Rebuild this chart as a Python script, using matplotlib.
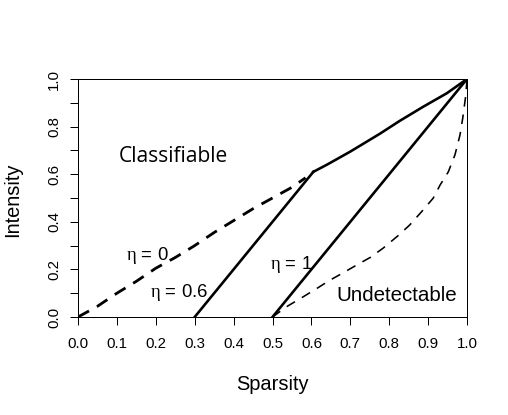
import matplotlib
matplotlib.use("Agg")
import matplotlib.pyplot as plt
import numpy as np

plt.rcParams['font.family'] = ['Liberation Sans', 'DejaVu Sans']
plt.rcParams['mathtext.fontset'] = 'custom'
plt.rcParams['mathtext.rm'] = 'Liberation Sans'
plt.rcParams['mathtext.it'] = 'Liberation Serif'

# Data
eta0_x = [0.0, 0.05, 0.1, 0.15, 0.2, 0.25, 0.3, 0.35, 0.4, 0.45, 0.5, 0.55, 0.585]
eta0_y = [0.0, 0.045, 0.1, 0.15, 0.205, 0.25, 0.3, 0.355, 0.405, 0.455, 0.5, 0.545, 0.585]

eta06_x = [0.3, 0.605]
eta06_y = [0.0, 0.61]

upper_x = [0.605, 0.64, 0.70, 0.776, 0.828, 0.888, 0.948, 1.0]
upper_y = [0.61, 0.64, 0.695, 0.77, 0.825, 0.884, 0.94, 1.0]

eta1_x = [0.5, 1.0]
eta1_y = [0.0, 1.0]

undet_x = [0.5, 0.536, 0.579, 0.614, 0.648, 0.682, 0.716, 0.751, 0.785, 0.823,
           0.853, 0.883, 0.913, 0.931, 0.952, 0.969, 0.982, 0.989, 0.997, 1.0]
undet_y = [0.0, 0.043, 0.085, 0.12, 0.155, 0.186, 0.218, 0.25, 0.29, 0.342,
           0.387, 0.442, 0.499, 0.555, 0.61, 0.681, 0.765, 0.835, 0.933, 1.0]

x_ticks = [0.0, 0.1, 0.2, 0.3, 0.4, 0.5, 0.6, 0.7, 0.8, 0.9, 1.0]
x_ticklabels = ["0.0", "0.1", "0.2", "0.3", "0.4", "0.5", "0.6", "0.7", "0.8", "0.9", "1.0"]
y_ticks = [0.0, 0.1, 0.2, 0.3, 0.4, 0.5, 0.6, 0.7, 0.8, 0.9, 1.0]
y_ticklabels = ["0.0", "", "0.2", "", "0.4", "", "0.6", "", "0.8", "", "1.0"]

W, H = 508, 415
fig = plt.figure(figsize=(W / 72, H / 72), dpi=72)
L, R, T, B = 78, 467, 79, 317
ax = fig.add_axes([L / W, 1 - B / H, (R - L) / W, (B - T) / H])

ax.plot(eta0_x, eta0_y, color='black', lw=2.8, dashes=(4.5, 3.2), solid_capstyle='butt')
ax.plot(eta06_x, eta06_y, color='black', lw=2.6)
ax.plot(upper_x, upper_y, color='black', lw=2.6)
ax.plot(eta1_x, eta1_y, color='black', lw=2.6)
ax.plot(undet_x, undet_y, color='black', lw=1.6, dashes=(6, 5))

ax.set_xlim(0, 1)
ax.set_ylim(0, 1)
ax.set_xticks(x_ticks)
ax.set_xticklabels(x_ticklabels)
ax.set_yticks(y_ticks)
ax.set_yticklabels(y_ticklabels, rotation=90, va='center')
ax.tick_params(axis='both', length=8, width=1, labelsize=15, direction='out')
ax.tick_params(axis='x', pad=12)
ax.tick_params(axis='y', pad=9)
for s in ax.spines.values():
    s.set_linewidth(1)

ax.text(0.245, 0.673, "Classifiable", fontsize=21, ha='center', va='center',
        family=['Open Sans', 'DejaVu Sans'])
ax.text(0.819, 0.092, "Undetectable", fontsize=20.5, ha='center', va='center')
ax.text(0.177, 0.258, r"$\eta\,=\,0$", fontsize=18.5, ha='center', va='center')
ax.text(0.26, 0.105, r"$\eta\,=\,0.6$", fontsize=18.5, ha='center', va='center')
ax.text(0.547, 0.222, r"$\eta\,=\,1$", fontsize=18.5, ha='center', va='center')

fig.text((L + R) / 2 / W, 1 - 385 / H, "Sparsity", fontsize=20, ha='center', va='center')
fig.text(13 / W, 1 - 200 / H, "Intensity", fontsize=20, ha='center', va='center', rotation=90)

fig.savefig("out.png", dpi=72)
